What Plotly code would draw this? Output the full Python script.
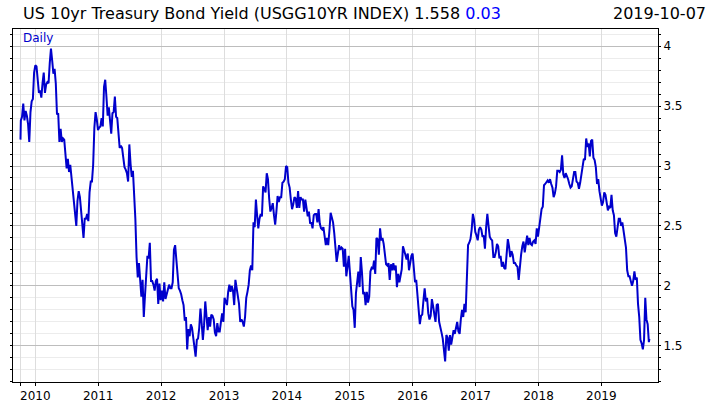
import pandas as pd
import plotly.graph_objects as go

# ---- data: weekly (Friday) closes of the US 10yr yield ----
start_date = "2009-10-07"
start_value = 3.22
end_date = "2019-10-07"
end_value = 1.558

y2009 = [3.38, 3.41, 3.52, 3.38, 3.46, 3.42, 3.35, 3.20, 3.45, 3.54, 3.56, 3.78]
y2010 = [3.84, 3.83, 3.68, 3.61, 3.63, 3.57, 3.69, 3.78, 3.61, 3.68, 3.70, 3.69, 3.86,
         3.98, 3.88, 3.77, 3.81, 3.69, 3.43, 3.44, 3.20, 3.31, 3.20, 3.23, 3.22, 3.11,
         2.98, 3.06, 2.95, 3.01, 2.91, 2.82, 2.68, 2.61, 2.50, 2.71, 2.79, 2.74, 2.60,
         2.52, 2.40, 2.56, 2.56, 2.60, 2.54, 2.78, 2.87, 2.87, 3.01, 3.32, 3.45, 3.39, 3.30]
y2011 = [3.32, 3.33, 3.40, 3.33, 3.66, 3.72, 3.58, 3.42, 3.49, 3.40, 3.27, 3.44,
         3.45, 3.58, 3.41, 3.40, 3.29, 3.15, 3.17, 3.15, 3.07, 2.99, 2.97, 2.94, 2.87,
         3.18, 3.02, 2.91, 2.96, 2.80, 2.56, 2.24, 2.07, 2.19, 1.99, 1.91, 2.05, 1.74,
         1.92, 2.07, 2.25, 2.23, 2.36, 2.04, 2.04, 2.01, 1.96, 2.04, 2.06, 1.85, 2.02, 1.88]
y2012 = [1.96, 1.87, 2.03, 1.89, 1.93, 1.99, 2.01, 1.98, 1.98, 2.03, 2.30, 2.34, 2.21,
         2.05, 1.98, 1.96, 1.93, 1.88, 1.84, 1.71, 1.74, 1.47, 1.64, 1.58, 1.68, 1.65,
         1.55, 1.49, 1.41, 1.55, 1.56, 1.65, 1.81, 1.69, 1.55, 1.67, 1.87, 1.75, 1.63,
         1.74, 1.66, 1.76, 1.75, 1.72, 1.61, 1.58, 1.69, 1.62, 1.62, 1.70, 1.77, 1.70]
y2013 = [1.90, 1.87, 1.84, 1.95, 2.01, 1.95, 2.00, 1.96, 1.84, 2.05, 1.99, 1.93, 1.85,
         1.70, 1.72, 1.70, 1.66, 1.74, 1.90, 1.95, 2.01, 2.13, 2.17, 2.13, 2.53, 2.49,
         2.72, 2.59, 2.48, 2.56, 2.60, 2.58, 2.83, 2.81, 2.78, 2.94, 2.89, 2.73, 2.62,
         2.65, 2.69, 2.59, 2.51, 2.62, 2.75, 2.70, 2.74, 2.74, 2.86, 2.87, 2.89, 3.00]
y2014 = [2.99, 2.86, 2.82, 2.72, 2.64, 2.68, 2.74, 2.73, 2.65, 2.79, 2.65, 2.74, 2.72,
         2.72, 2.62, 2.72, 2.66, 2.58, 2.62, 2.52, 2.53, 2.48, 2.59, 2.60, 2.60, 2.53,
         2.64, 2.52, 2.48, 2.47, 2.49, 2.42, 2.34, 2.40, 2.34, 2.46, 2.61, 2.57, 2.53,
         2.44, 2.31, 2.20, 2.27, 2.34, 2.30, 2.32, 2.31, 2.16, 2.31, 2.08, 2.16, 2.25]
y2015 = [2.11, 1.95, 1.83, 1.80, 1.65, 1.94, 2.04, 2.12, 1.99, 2.24, 2.11, 1.93, 1.95,
         1.84, 1.95, 1.86, 1.91, 2.12, 2.15, 2.14, 2.21, 2.10, 2.40, 2.39, 2.26, 2.48,
         2.38, 2.40, 2.35, 2.26, 2.18, 2.17, 2.19, 2.05, 2.18, 2.13, 2.19, 2.13, 2.17,
         1.99, 2.10, 2.03, 2.08, 2.14, 2.33, 2.28, 2.26, 2.22, 2.27, 2.13, 2.20, 2.25]
y2016 = [2.27, 2.12, 2.03, 2.05, 1.93, 1.84, 1.68, 1.75, 1.76, 1.88, 1.98, 1.87, 1.90,
         1.77, 1.72, 1.75, 1.89, 1.83, 1.78, 1.70, 1.84, 1.85, 1.70, 1.64, 1.61, 1.56,
         1.44, 1.37, 1.59, 1.57, 1.46, 1.59, 1.51, 1.58, 1.63, 1.60, 1.67, 1.70, 1.62,
         1.60, 1.72, 1.80, 1.74, 1.85, 1.78, 2.15, 2.34, 2.36, 2.39, 2.47, 2.60, 2.55, 2.45]
y2017 = [2.42, 2.38, 2.47, 2.49, 2.47, 2.41, 2.42, 2.31, 2.49, 2.60, 2.50, 2.41, 2.39,
         2.38, 2.24, 2.24, 2.28, 2.35, 2.33, 2.23, 2.25, 2.16, 2.20, 2.15, 2.14, 2.30,
         2.39, 2.33, 2.24, 2.29, 2.26, 2.19, 2.19, 2.17, 2.16, 2.05, 2.20, 2.26, 2.33,
         2.37, 2.28, 2.38, 2.42, 2.34, 2.40, 2.35, 2.34, 2.37, 2.38, 2.35, 2.48, 2.41]
y2018 = [2.48, 2.55, 2.64, 2.66, 2.84, 2.85, 2.87, 2.88, 2.86, 2.89, 2.85, 2.82, 2.74,
         2.77, 2.83, 2.96, 2.96, 2.95, 2.97, 3.09, 2.93, 2.90, 2.94, 2.92, 2.89, 2.85,
         2.82, 2.83, 2.89, 2.95, 2.95, 2.87, 2.86, 2.81, 2.86, 2.94, 2.99, 3.06, 3.05,
         3.23, 3.16, 3.19, 3.08, 3.21, 3.22, 3.07, 3.05, 2.99, 2.85, 2.89, 2.79, 2.72]
y2019 = [2.67, 2.70, 2.78, 2.76, 2.69, 2.63, 2.66, 2.65, 2.76, 2.63, 2.59, 2.44, 2.41,
         2.50, 2.56, 2.56, 2.50, 2.53, 2.45, 2.39, 2.32, 2.13, 2.08, 2.08, 2.05, 2.00,
         2.04, 2.12, 2.05, 2.07, 1.85, 1.74, 1.55, 1.52, 1.47, 1.55, 1.90, 1.72, 1.68, 1.53]

year_values = {2009: y2009, 2010: y2010, 2011: y2011, 2012: y2012, 2013: y2013,
               2014: y2014, 2015: y2015, 2016: y2016, 2017: y2017, 2018: y2018, 2019: y2019}

year_ticks = list(range(2010, 2020))
title_text = "US 10yr Treasury Bond Yield (USGG10YR INDEX) 1.558 "
change_text = "0.03"
date_text = "2019-10-07"
freq_text = "Daily"

# ---- assemble series ----
dates = [pd.Timestamp(start_date)]
vals = [start_value]
for yr, v in year_values.items():
    s = f"{yr}-01-01" if yr > 2009 else "2009-10-08"
    e = f"{yr}-12-31" if yr < 2019 else "2019-10-05"
    fr = pd.date_range(s, e, freq="W-FRI")
    n = min(len(fr), len(v))
    dates.extend(fr[:n])
    vals.extend(v[:n])
dates.append(pd.Timestamp(end_date))
vals.append(end_value)

BLUE = "#0000CC"
FONT = "DejaVu Sans"

W, H = 719, 408
L, R, T, B = 13, 61, 29, 26
PW, PH = W - L - R, H - T - B


def px_x(x):
    return (x - L) / PW


def px_y(y):
    return 1 - (y - T) / PH


fig = go.Figure()
fig.add_trace(go.Scatter(x=dates, y=vals, mode="lines",
                         line=dict(color=BLUE, width=2), hoverinfo="skip"))

tickvals = [start_date] + [f"{y}-01-01" for y in year_ticks]
ticktext = [""] + [str(y) for y in year_ticks]

fig.update_layout(
    width=W, height=H,
    margin=dict(l=L, r=R, t=T, b=B, autoexpand=False),
    paper_bgcolor="white", plot_bgcolor="white",
    showlegend=False,
    font=dict(family=FONT, size=12, color="black"),
    xaxis=dict(type="date", range=["2009-08-24 12:00", "2019-11-26"],
               automargin=False,
               tickmode="array", tickvals=tickvals, ticktext=ticktext,
               ticks="outside", ticklen=3, tickcolor="black", tickwidth=1,
               showgrid=True, gridcolor="#dddddd", gridwidth=1,
               showline=True, linecolor="black", linewidth=1, mirror=True,
               tickfont=dict(family=FONT, size=12, color="black"),
               zeroline=False),
    yaxis=dict(side="right", range=[1.198, 4.143], tick0=0, dtick=0.5,
               automargin=False,
               ticks="outside", ticklen=2, tickcolor="black", tickwidth=1,
               showgrid=True, gridcolor="#bdbdbd", gridwidth=1,
               showline=True, linecolor="black", linewidth=1, mirror="allticks",
               tickfont=dict(family=FONT, size=12, color="black"),
               minor=dict(tick0=0, dtick=0.1, showgrid=True, gridcolor="#ececec",
                          ticks="outside", ticklen=2, tickcolor="black"),
               zeroline=False),
    annotations=[
        dict(xref="paper", yref="paper", x=px_x(21), y=px_y(13),
             xanchor="left", yanchor="middle", showarrow=False,
             text=title_text + f"<span style='color:#0000FF'>{change_text}</span>",
             font=dict(family=FONT, size=16, color="black")),
        dict(xref="paper", yref="paper", x=px_x(708), y=px_y(13),
             xanchor="right", yanchor="middle", showarrow=False,
             text=date_text, font=dict(family=FONT, size=16, color="black")),
        dict(xref="paper", yref="paper", x=px_x(21), y=px_y(38),
             xanchor="left", yanchor="middle", showarrow=False,
             text=freq_text, font=dict(family=FONT, size=12, color=BLUE)),
    ],
)

fig.write_html("out.html",
               config={"displayModeBar": False, "responsive": False},
               post_script="document.body.style.margin='0';"
                           "document.body.style.overflow='hidden';")
